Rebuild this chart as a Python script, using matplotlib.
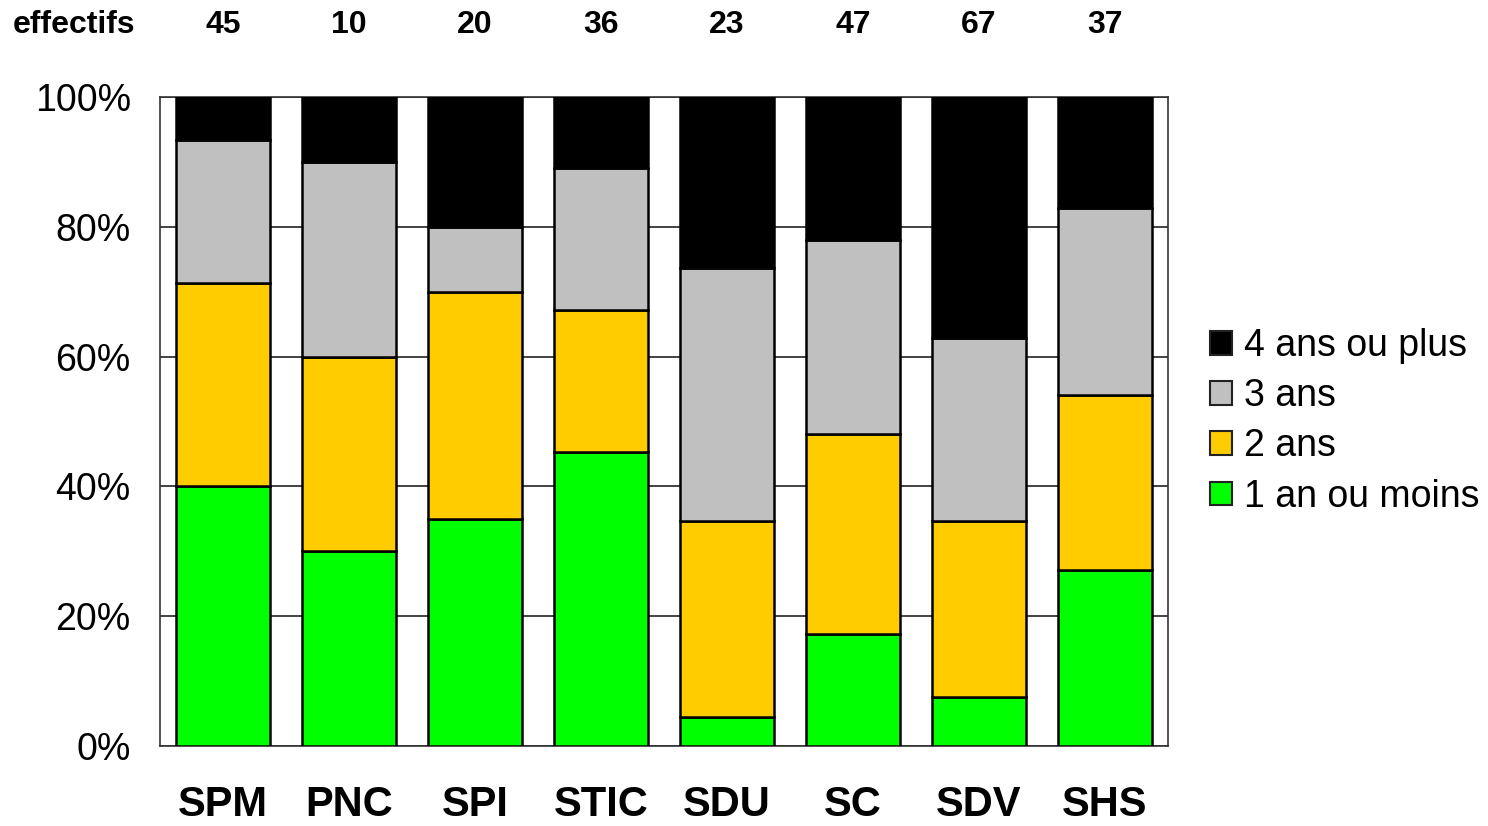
import matplotlib.pyplot as plt
import matplotlib.transforms as mtransforms
from matplotlib.patches import Patch

plt.rcParams['font.family'] = ['Liberation Sans', 'DejaVu Sans']

categories = ["SPM", "PNC", "SPI", "STIC", "SDU", "SC", "SDV", "SHS"]
effectifs = [45, 10, 20, 36, 23, 47, 67, 37]

# parts en %
un_an = [40.0, 30.0, 35.0, 45.3, 4.5, 17.2, 7.5, 27.1]
deux_ans = [31.3, 30.0, 35.0, 21.9, 30.2, 30.9, 27.2, 27.0]
trois_ans = [22.1, 30.0, 10.0, 21.9, 39.0, 29.9, 28.2, 28.8]
quatre_ans = [6.6, 10.0, 20.0, 10.9, 26.3, 22.0, 37.1, 17.1]

series = [
    ("1 an ou moins", un_an, "#00FF00"),
    ("2 ans", deux_ans, "#FFCC00"),
    ("3 ans", trois_ans, "#C0C0C0"),
    ("4 ans ou plus", quatre_ans, "#000000"),
]

fig = plt.figure(figsize=(14.88, 8.26), dpi=100)
ax = fig.add_axes([0.1075, 0.0969, 0.6775, 0.7857])

x = range(len(categories))
bottom = [0.0] * len(categories)
for label, vals, color in series:
    ax.bar(x, vals, width=0.75, bottom=bottom, color=color,
           edgecolor="black", linewidth=1.8, zorder=3)
    bottom = [b + v for b, v in zip(bottom, vals)]

ax.set_xlim(-0.5, len(categories) - 0.5)
ax.set_ylim(0, 100)
ax.set_yticks([0, 20, 40, 60, 80, 100])
ax.set_yticklabels([f"{v}%" for v in [0, 20, 40, 60, 80, 100]], fontsize=27)
ax.set_xticks(list(x))
ax.set_xticklabels(categories, fontsize=30, fontweight="bold")
ax.tick_params(axis="both", length=0)
ax.tick_params(axis="y", pad=21)
ax.tick_params(axis="x", pad=28)

ax.yaxis.grid(True, color="#222222", linewidth=1.2, zorder=0)
for s in ax.spines.values():
    s.set_color("#333333")
    s.set_linewidth(1.2)

# effectifs en haut
trans = mtransforms.blended_transform_factory(ax.transData, fig.transFigure)
for i, n in enumerate(effectifs):
    ax.text(i, 0.970, str(n), transform=trans, ha="center", va="center",
            fontsize=23, fontweight="bold")
fig.text(13 / 1488, 0.970, "effectifs", ha="left", va="center",
         fontsize=23, fontweight="bold")

handles = [Patch(facecolor=c, edgecolor="#222222", linewidth=1.5, label=l)
           for l, _, c in reversed(series)]
fig.legend(handles=handles, loc="center left", bbox_to_anchor=(0.803, 0.49),
           frameon=False, fontsize=27, handlelength=0.6, handleheight=0.6,
           handletextpad=0.3, labelspacing=0.38, borderaxespad=0)

fig.savefig("out.png", dpi=100)
plt.close(fig)
